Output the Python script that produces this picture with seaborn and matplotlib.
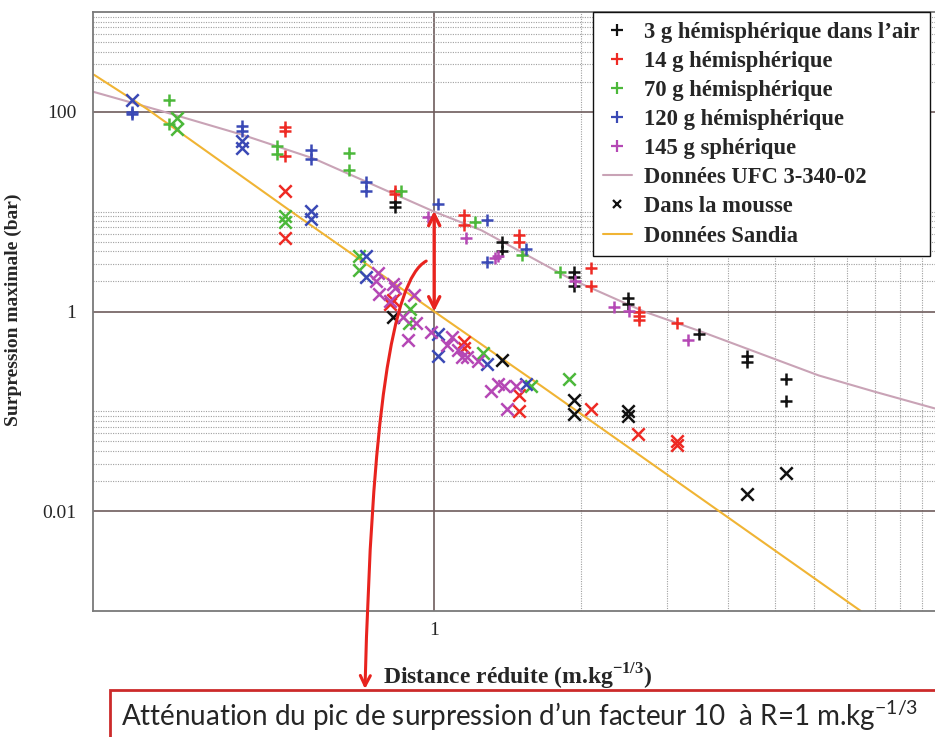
import pandas as pd
import seaborn as sns
import matplotlib.pyplot as plt
from matplotlib.lines import Line2D
from matplotlib.patches import Rectangle
from matplotlib.ticker import FixedLocator, NullFormatter

sns.set_style("white")
plt.rcParams["font.family"] = ["Liberation Serif", "DejaVu Serif"]
plt.rcParams["mathtext.fontset"] = "custom"
plt.rcParams["mathtext.rm"] = "Lato"
plt.rcParams["mathtext.bf"] = "Liberation Serif:bold"

# reduced distance (m.kg^-1/3) and peak overpressure (bar)
# 3 g
air3_x = [0.83, 0.83, 1.38, 1.38, 1.93, 1.93, 1.93, 2.49, 2.49, 3.49, 4.38, 4.38, 5.26, 5.26]
air3_y = [12.6, 11.2, 5.0, 4.0, 2.5, 2.2, 1.8, 1.35, 1.2, 0.59, 0.36, 0.31, 0.21, 0.126]
mou3_x = [0.824, 1.38, 1.93, 1.93, 2.49, 2.49, 4.38, 5.26]
mou3_y = [0.89, 0.33, 0.13, 0.095, 0.10, 0.089, 0.0148, 0.024]
# 14 g
air14_x = [0.495, 0.495, 0.495, 0.83, 0.83, 1.15, 1.15, 1.49, 1.49, 2.10, 2.10, 2.63, 2.63, 2.63, 3.15]
air14_y = [71, 65, 36, 16, 15, 9.3, 7.3, 5.8, 5.0, 2.7, 1.8, 1.0, 0.91, 0.83, 0.76]
mou14_x = [0.495, 0.495, 0.824, 0.81, 1.15, 1.15, 1.49, 1.49, 2.10, 2.62, 3.15, 3.15]
mou14_y = [16, 5.5, 1.29, 1.2, 0.50, 0.43, 0.145, 0.10, 0.105, 0.059, 0.050, 0.046]
# 70 g
air70_x = [0.286, 0.286, 0.477, 0.477, 0.67, 0.67, 0.856, 1.21, 1.51, 1.81]
air70_y = [130, 76, 45, 38, 39, 26, 16, 7.8, 3.7, 2.5]
mou70_x = [0.297, 0.297, 0.495, 0.495, 0.70, 0.70, 0.893, 0.89, 1.26, 1.58, 1.89]
mou70_y = [87, 68, 9.1, 7.9, 3.6, 2.6, 1.07, 0.76, 0.38, 0.18, 0.21]
# 120 g
air120_x = [0.24, 0.24, 0.404, 0.404, 0.56, 0.56, 0.726, 0.726, 1.02, 1.28, 1.28, 1.54]
air120_y = [100, 95, 72, 65, 41, 34, 20, 16, 12, 8.3, 3.1, 4.2]
mou120_x = [0.24, 0.404, 0.404, 0.56, 0.56, 0.726, 0.726, 1.02, 1.02, 1.28, 1.54]
mou120_y = [130, 51, 43, 10.2, 8.5, 3.6, 2.2, 0.59, 0.36, 0.30, 0.19]
# 145 g
air145_x = [0.97, 1.16, 1.35, 1.33, 1.94, 2.34, 2.51, 3.31]
air145_y = [8.9, 5.5, 3.6, 3.4, 2.0, 1.12, 1.02, 0.52]
mou145_x = [0.767, 0.76, 0.77, 0.824, 0.83, 0.81, 0.864, 0.91, 0.918, 0.885, 0.986,
            1.09, 1.06, 1.12, 1.14, 1.17, 1.23, 1.35, 1.31, 1.39, 1.47, 1.41]
mou145_y = [2.45, 2.0, 1.5, 1.9, 1.7, 1.26, 0.89, 1.48, 0.76, 0.52, 0.63,
            0.56, 0.46, 0.41, 0.35, 0.35, 0.32, 0.19, 0.16, 0.18, 0.18, 0.105]

# reference curves
ufc_x = [0.201, 0.276, 0.404, 0.567, 1.0, 1.25, 1.91, 2.69, 3.52, 6.13, 7.96, 10.6]
ufc_y = [158, 102, 59, 34, 10, 6.5, 2.1, 1.0, 0.63, 0.229, 0.158, 0.107]
sandia_x = [0.201, 0.258, 0.51, 1.0, 1.656, 3.78, 7.48]
sandia_y = [235, 107, 10, 1.0, 0.18, 0.0105, 0.001]

charges = ["3 g hémisphérique dans l’air", "14 g hémisphérique", "70 g hémisphérique",
           "120 g hémisphérique", "145 g sphérique"]
colors = ["#111111", "#ee2a24", "#4cb83a", "#3a49b5", "#b548b5"]

series = [(air3_x, air3_y, mou3_x, mou3_y), (air14_x, air14_y, mou14_x, mou14_y),
          (air70_x, air70_y, mou70_x, mou70_y), (air120_x, air120_y, mou120_x, mou120_y),
          (air145_x, air145_y, mou145_x, mou145_y)]
rows = []
for name, (ax_, ay_, mx_, my_) in zip(charges, series):
    rows += [{"charge": name, "milieu": "air", "x": a, "y": b} for a, b in zip(ax_, ay_)]
    rows += [{"charge": name, "milieu": "mousse", "x": a, "y": b} for a, b in zip(mx_, my_)]
df = pd.DataFrame(rows)

fig = plt.figure(figsize=(9.35, 7.37), dpi=100)
ax = fig.add_axes([93 / 935, 126 / 737, 868 / 935, 599 / 737])
ax.set_xscale("log")
ax.set_yscale("log")

sns.lineplot(x=ufc_x, y=ufc_y, color="#c9a3b6", lw=1.5, ax=ax, zorder=2)
sns.lineplot(x=sandia_x, y=sandia_y, color="#f0b434", lw=1.5, ax=ax, zorder=2)

for name, c in zip(charges, colors):
    for milieu, mk in [("air", "+"), ("mousse", "x")]:
        sub = df[(df.charge == name) & (df.milieu == milieu)]
        sns.scatterplot(data=sub, x="x", y="y", marker=mk, color=c, s=80,
                        linewidth=1.8, ax=ax, legend=False, zorder=3)

ax.set_xlim(0.2, 12.0)
ax.set_ylim(0.001, 1000)
ax.set_xticks([1])
ax.set_xticklabels(["1"])
ax.set_yticks([0.01, 1, 100])
ax.set_yticklabels(["0.01", "1", "100"])
ax.xaxis.set_minor_locator(FixedLocator([2, 3, 4, 5, 6, 7, 8, 9, 10, 11]))
ax.yaxis.set_minor_locator(FixedLocator(
    [k * 100 for k in range(2, 10)] + [k * 1.0 for k in range(2, 11)] + [k * 0.01 for k in range(2, 11)]))
ax.xaxis.set_minor_formatter(NullFormatter())
ax.yaxis.set_minor_formatter(NullFormatter())
ax.tick_params(which="both", length=0, labelsize=14)
ax.tick_params(axis="y", pad=12)
ax.tick_params(axis="x", pad=8)
ax.grid(which="major", color="#6e5c5c", lw=1.2)
ax.grid(which="minor", color="#a0a0a0", lw=0.8, ls=(0, (1, 1.2)))
ax.set_axisbelow(True)
for sp in ax.spines.values():
    sp.set_color("#7a7a7a")
    sp.set_linewidth(1.3)

ax.set_xlabel("Distance réduite (m.kg$^{\\mathbf{-1/3}}$)", fontsize=17, fontweight="bold")
ax.xaxis.set_label_coords((518 - 93) / 868, -(662 - 611) / 599)
ax.set_ylabel("Surpression maximale (bar)", fontsize=14, fontweight="bold")
ax.yaxis.set_label_coords((22 - 93) / 868, (611 - 310) / 599)

handles = [Line2D([], [], ls="none", marker="+", color=c, markersize=8, mew=1.6) for c in colors]
handles.append(Line2D([], [], color="#c9a3b6", lw=1.5))
handles.append(Line2D([], [], ls="none", marker="x", color="#111111", markersize=6, mew=1.6))
handles.append(Line2D([], [], color="#f0b434", lw=1.5))
labels = charges + ["Données UFC 3-340-02", "Dans la mousse", "Données Sandia"]
leg = ax.legend(handles, labels, loc="upper left", bbox_to_anchor=(593 / 935, 1 - 12 / 737),
                bbox_transform=fig.transFigure, frameon=True, fancybox=False, framealpha=1,
                edgecolor="#111111", prop={"family": "Liberation Serif", "weight": "bold", "size": 16.3},
                labelspacing=0.36, handlelength=1.3, handletextpad=0.55, borderpad=0.42, borderaxespad=0)
leg.get_frame().set_linewidth(1.0)
leg.set_zorder(5)

# red annotations
ax.annotate("", xy=(1, 10.2), xytext=(1, 1.0),
            arrowprops=dict(arrowstyle="<->", color="#e8231e", lw=2.4, mutation_scale=20,
                            shrinkA=0, shrinkB=0), zorder=6)
ax.annotate("", xy=(365, 737 - 689), xycoords="figure pixels", xytext=(0.963, 3.2), textcoords="data",
            arrowprops=dict(arrowstyle="->", color="#e8231e", lw=2.2, mutation_scale=18,
                            shrinkA=0, shrinkB=0, connectionstyle="angle3,angleA=28,angleB=88.6"),
            annotation_clip=False, zorder=6)

fig.patches.append(Rectangle((110 / 935, -0.05), 0.95, 0.05 + (737 - 690) / 737, transform=fig.transFigure,
                             facecolor="white", edgecolor="#cc2a2a", lw=2.0, zorder=1))
fig.text(121 / 935, (737 - 716) / 737, "Atténuation du pic de surpression d’un facteur 10  à R=1 m.kg$^{-1/3}$",
         fontsize=20, family="Lato", va="center", ha="left")

fig.savefig("out.png", dpi=100)
